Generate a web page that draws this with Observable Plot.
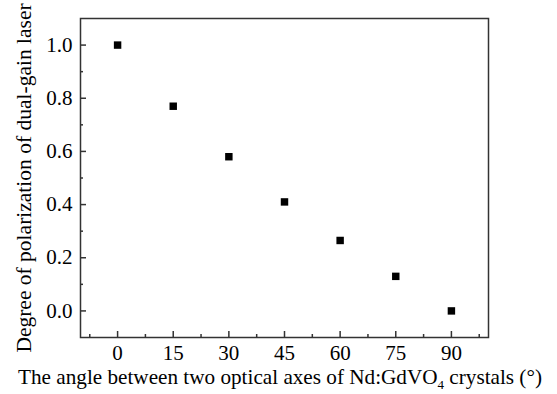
<!DOCTYPE html>
<html><head><meta charset="utf-8">
<script src="https://cdn.jsdelivr.net/npm/d3@7"></script>
<script src="https://cdn.jsdelivr.net/npm/@observablehq/plot@0.6"></script>
<style>body{margin:0;background:#fff;} svg{font-family:"Liberation Serif","Times New Roman",serif;}</style>
</head><body><div id="chart"></div>
<script>
const angles = [0, 15, 30, 45, 60, 75, 90];
const degree = [1.0, 0.77, 0.58, 0.41, 0.265, 0.13, 0.0];
const xMajor = [0, 15, 30, 45, 60, 75, 90];
const xMinor = [-7.5, 7.5, 22.5, 37.5, 52.5, 67.5, 82.5, 97.5];
const yMajor = [0.0, 0.2, 0.4, 0.6, 0.8, 1.0];
const yMinor = [0.1, 0.3, 0.5, 0.7, 0.9];
const xLabel = "The angle between two optical axes of Nd:GdVO";
const yLabel = "Degree of polarization of dual-gain laser";

const data = angles.map((a, i) => ({angle: a, degree: degree[i]}));
const axisColor = "#333";

const plot = Plot.plot({
  width: 557, height: 394,
  marginLeft: 80, marginRight: 69, marginTop: 18, marginBottom: 57,
  style: {fontFamily: '"Liberation Serif","Times New Roman",serif', background: "#fff", color: "#000"},
  x: {domain: [-10, 100]},
  y: {domain: [-0.1, 1.1]},
  marks: [
    Plot.axisX(xMajor, {tickSize: 0, tickPadding: 8, fontSize: 21, label: null, tickFormat: d => String(d)}),
    Plot.axisY(yMajor, {tickSize: 0, tickPadding: 8, fontSize: 21, label: null, tickFormat: d => d.toFixed(1)}),
    Plot.axisX(xMajor, {tickSize: -6, text: null, label: null, stroke: axisColor, strokeWidth: 1.5}),
    Plot.axisX(xMinor, {tickSize: -3, text: null, label: null, stroke: axisColor, strokeWidth: 1.5}),
    Plot.axisY(yMajor, {tickSize: -6, text: null, label: null, stroke: axisColor, strokeWidth: 1.5}),
    Plot.axisY(yMinor, {tickSize: -3, text: null, label: null, stroke: axisColor, strokeWidth: 1.5}),
    Plot.frame({stroke: axisColor, strokeWidth: 1.5}),
    Plot.dot(data, {x: "angle", y: "degree", symbol: "square", r: 4.2, fill: "#000", stroke: "none"})
  ]
});
document.getElementById("chart").appendChild(plot);

const svg = d3.select(plot);
const xt = svg.append("text")
  .attr("x", 280).attr("y", 384)
  .attr("text-anchor", "middle")
  .attr("font-size", 21.2).attr("fill", "#000");
xt.append("tspan").text(xLabel);
xt.append("tspan").attr("font-size", 13).attr("dy", 5).text("4");
xt.append("tspan").attr("dy", -5).text(" crystals (°)");

svg.append("text")
  .attr("transform", "translate(31,178) rotate(-90)")
  .attr("text-anchor", "middle")
  .attr("font-size", 21.5).attr("fill", "#000")
  .text(yLabel);
</script></body></html>
